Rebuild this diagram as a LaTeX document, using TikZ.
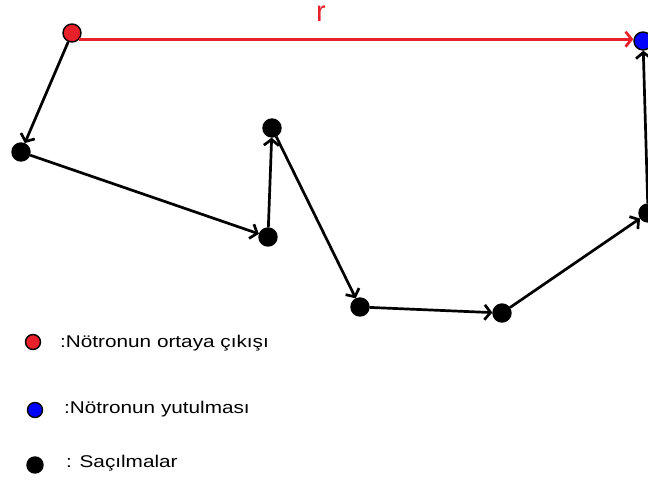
\documentclass[tikz,border=0pt]{standalone}
\usepackage{fontspec}
\setmainfont{Liberation Sans}
\newfontfamily\legendfont[FakeStretch=1.22]{Liberation Sans}
\usetikzlibrary{arrows.meta}
\definecolor{emitred}{RGB}{232,32,42}
\definecolor{absblue}{RGB}{0,0,255}

\begin{document}
\begin{tikzpicture}[x=1pt, y=-1pt,
  dot/.style={circle, draw=black, line width=1.4pt, inner sep=0pt, minimum size=18pt},
  keydot/.style={dot, minimum size=15pt},
  walk/.style={line width=2.7pt, -{Straight Barb[length=6pt,width=15pt,line width=2.7pt]}},
  keytext/.style={anchor=west, inner sep=0pt, font=\legendfont\fontsize{17}{19}\selectfont}]
  \useasboundingbox (0,0) rectangle (648,483);
  % path of the neutron
  \node[dot, fill=emitred] (src) at (72,33) {};
  \node[dot, fill=black] (s1) at (21,152) {};
  \node[dot, fill=black] (s2) at (268,237) {};
  \node[dot, fill=black] (s3) at (272,128) {};
  \node[dot, fill=black] (s4) at (360,307) {};
  \node[dot, fill=black] (s5) at (502,313) {};
  \node[dot, fill=black] (s6) at (648,213) {};
  \node[dot, fill=absblue] (sink) at (643,41) {};
  \draw[walk] (src) -- (s1);
  \draw[walk] (s1) -- (s2);
  \draw[walk] (s2) -- (s3);
  \draw[walk] (s3) -- (s4);
  \draw[walk] (s4) -- (s5);
  \draw[walk] (s5) -- (s6);
  \draw[walk] (s6) -- (sink);
  \draw[walk, emitred] (src.-40) -- (src.-40 -| sink.west);
  \node[text=emitred, inner sep=0pt, font=\fontsize{29}{29}\selectfont] (dist) at (321,14) {r};
  % legend
  \node[keydot, fill=emitred] (keysrc) at (33,342) {};
  \node[keytext] (keysrctext) at (60,343) {:Nötronun ortaya çıkışı};
  \node[keydot, fill=absblue] (keysink) at (35,410) {};
  \node[keytext] (keysinktext) at (64,409) {:Nötronun yutulması};
  \node[keydot, fill=black, minimum size=16pt] (keyscat) at (35,465) {};
  \node[keytext] (keyscattext) at (66,463) {: Saçılmalar};
\end{tikzpicture}
\end{document}
